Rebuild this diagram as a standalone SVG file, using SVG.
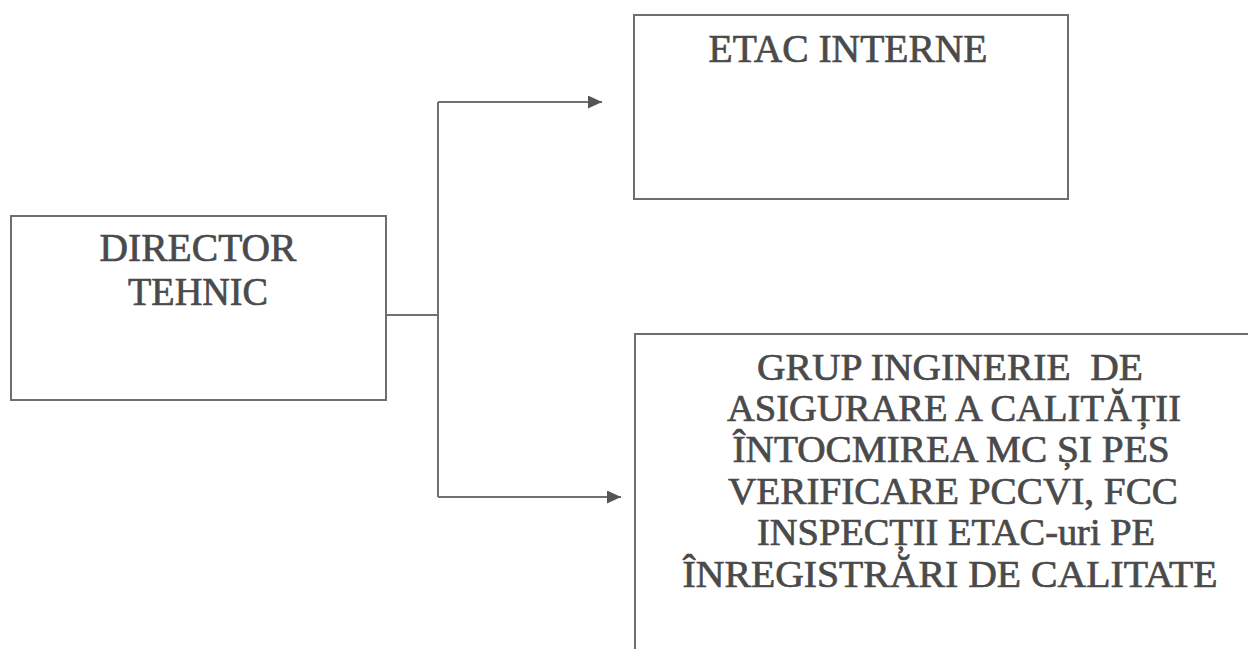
<svg xmlns="http://www.w3.org/2000/svg" width="1248" height="649" viewBox="0 0 1248 649">
  <style>
    .box { fill: #ffffff; stroke: #6e6e6e; stroke-width: 2; }
    .lbl { font-family: "Liberation Serif", "Times New Roman", serif; fill: #4a4a4a; stroke: #4a4a4a; stroke-width: 0.7; text-anchor: middle; }
    .big { font-size: 40px; }
    .mid { font-size: 38px; }
    .conn { fill: none; stroke: #707070; stroke-width: 2; }
  </style>
  <defs>
    <marker id="arrow" viewBox="0 0 14 13" refX="14" refY="6.5" markerWidth="14" markerHeight="13" markerUnits="userSpaceOnUse" orient="auto">
      <path d="M0,0 L14,6.5 L0,13 Z" fill="#555555"/>
    </marker>
  </defs>
  <rect width="1248" height="649" fill="#ffffff"/>

  <g id="connectors">
    <path class="conn" d="M386,315 H438"/>
    <path class="conn" d="M438,102 V497"/>
    <path class="conn" d="M438,102 H602" marker-end="url(#arrow)"/>
    <path class="conn" d="M438,497 H621" marker-end="url(#arrow)"/>
  </g>

  <g id="director-tehnic">
    <rect class="box" x="11" y="216" width="375" height="184"/>
    <text class="lbl big" x="198" y="261" textLength="197" lengthAdjust="spacingAndGlyphs">DIRECTOR</text>
    <text class="lbl big" x="198" y="305" textLength="140" lengthAdjust="spacingAndGlyphs">TEHNIC</text>
  </g>

  <g id="etac-interne">
    <rect class="box" x="634" y="15" width="434" height="184"/>
    <text class="lbl big" x="848" y="62" textLength="279" lengthAdjust="spacingAndGlyphs">ETAC INTERNE</text>
  </g>

  <g id="grup-inginerie">
    <rect class="box" x="635" y="334" width="640" height="340"/>
    <text class="lbl mid" x="950" y="380" textLength="386" lengthAdjust="spacingAndGlyphs" xml:space="preserve">GRUP INGINERIE  DE</text>
    <text class="lbl mid" x="954" y="421" textLength="454" lengthAdjust="spacingAndGlyphs">ASIGURARE A CALITĂȚII</text>
    <text class="lbl mid" x="951" y="462" textLength="437" lengthAdjust="spacingAndGlyphs">ÎNTOCMIREA MC ȘI PES</text>
    <text class="lbl mid" x="953" y="504" textLength="450" lengthAdjust="spacingAndGlyphs">VERIFICARE PCCVI, FCC</text>
    <text class="lbl mid" x="956" y="545" textLength="398" lengthAdjust="spacingAndGlyphs">INSPECȚII ETAC-uri PE</text>
    <text class="lbl mid" x="950" y="587" textLength="535" lengthAdjust="spacingAndGlyphs">ÎNREGISTRĂRI DE CALITATE</text>
  </g>
</svg>
